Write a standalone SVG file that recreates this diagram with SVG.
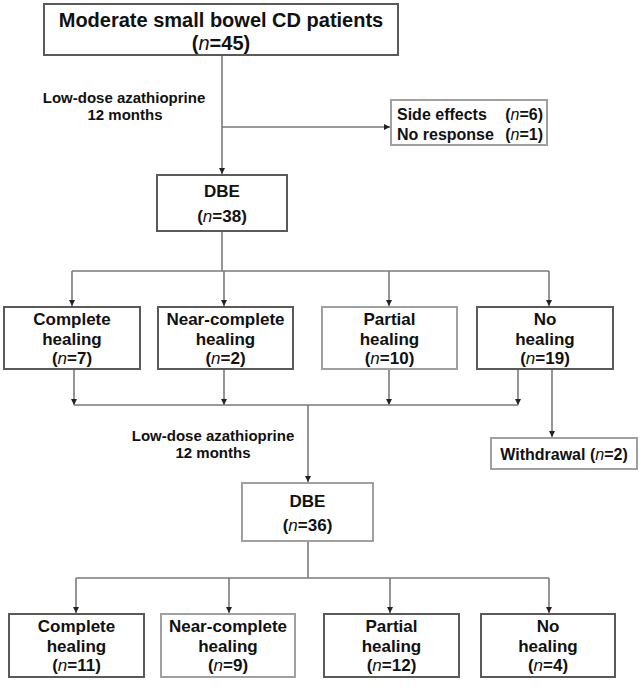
<svg xmlns="http://www.w3.org/2000/svg" width="644" height="688" viewBox="0 0 644 688">
<defs>
<style>
text{font-family:"Liberation Sans",Arial,sans-serif;font-weight:bold;fill:#111;text-anchor:middle}
.big{font-size:20px}
.box{font-size:17px}
.lbl{font-size:15px}
.side{font-size:16px}
.it{font-style:italic;font-weight:normal}
rect{fill:#fff;stroke:#5a5a5a;stroke-width:2}
rect.lt{stroke:#a0a0a0}
.conn line,.conn path{stroke:#7a7a7a;stroke-width:1.6;fill:none}
</style>
<marker id="ah" viewBox="0 0 6 6" refX="6" refY="3" markerWidth="6" markerHeight="6" markerUnits="userSpaceOnUse" orient="auto">
<path d="M0,0 L6,3 L0,6 Z" fill="#222"/>
</marker>
</defs>
<rect width="644" height="688" fill="#fff" style="stroke:none"/>

<g class="conn">
<line x1="222" y1="55" x2="222" y2="174" marker-end="url(#ah)"/>
<line x1="222" y1="127" x2="390" y2="127" marker-end="url(#ah)"/>
<line x1="222" y1="231" x2="222" y2="271"/>
<line x1="72" y1="271" x2="549" y2="271"/>
<line x1="72" y1="271" x2="72" y2="306" marker-end="url(#ah)"/>
<line x1="224" y1="271" x2="224" y2="306" marker-end="url(#ah)"/>
<line x1="389" y1="271" x2="389" y2="306" marker-end="url(#ah)"/>
<line x1="549" y1="271" x2="549" y2="306" marker-end="url(#ah)"/>
<line x1="74" y1="369" x2="74" y2="405" marker-end="url(#ah)"/>
<line x1="224" y1="369" x2="224" y2="405" marker-end="url(#ah)"/>
<line x1="389" y1="369" x2="389" y2="405" marker-end="url(#ah)"/>
<line x1="518" y1="369" x2="518" y2="405" marker-end="url(#ah)"/>
<line x1="74" y1="405" x2="518" y2="405"/>
<line x1="552" y1="369" x2="552" y2="437" marker-end="url(#ah)"/>
<line x1="308" y1="405" x2="308" y2="482" marker-end="url(#ah)"/>
<line x1="308" y1="541" x2="308" y2="578"/>
<line x1="76" y1="578" x2="549" y2="578"/>
<line x1="76" y1="578" x2="76" y2="613" marker-end="url(#ah)"/>
<line x1="229" y1="578" x2="229" y2="613" marker-end="url(#ah)"/>
<line x1="390" y1="578" x2="390" y2="613" marker-end="url(#ah)"/>
<line x1="549" y1="578" x2="549" y2="613" marker-end="url(#ah)"/>
</g>

<g id="start">
<rect x="44" y="4" width="354" height="51"/>
<text class="big" x="221" y="27">Moderate small bowel CD patients</text>
<text class="big" x="221" y="50">(<tspan class="it">n</tspan>=45)</text>
</g>

<g id="label1">
<text class="lbl" x="124" y="103">Low-dose azathioprine</text>
<text class="lbl" x="125" y="120">12 months</text>
</g>

<g id="excluded">
<rect class="lt" x="391" y="100" width="156" height="45"/>
<text class="side" x="397" y="120" style="text-anchor:start">Side effects</text>
<text class="side" x="543" y="120" style="text-anchor:end">(<tspan class="it">n</tspan>=6)</text>
<text class="side" x="397" y="140" style="text-anchor:start">No response</text>
<text class="side" x="543" y="140" style="text-anchor:end">(<tspan class="it">n</tspan>=1)</text>
</g>

<g id="dbe1">
<rect x="157" y="175" width="130" height="56"/>
<text class="box" x="222" y="197">DBE</text>
<text class="box" x="222" y="222">(<tspan class="it">n</tspan>=38)</text>
</g>

<g id="r1-complete">
<rect x="4" y="307" width="136" height="62"/>
<text class="box" x="72" y="325">Complete</text>
<text class="box" x="72" y="344.5">healing</text>
<text class="box" x="72" y="364">(<tspan class="it">n</tspan>=7)</text>
</g>
<g id="r1-near">
<rect x="158" y="307" width="135" height="62"/>
<text class="box" x="225.5" y="325">Near-complete</text>
<text class="box" x="225.5" y="344.5">healing</text>
<text class="box" x="225.5" y="364">(<tspan class="it">n</tspan>=2)</text>
</g>
<g id="r1-partial">
<rect class="lt" x="322" y="307" width="135" height="62"/>
<text class="box" x="389.5" y="325">Partial</text>
<text class="box" x="389.5" y="344.5">healing</text>
<text class="box" x="389.5" y="364">(<tspan class="it">n</tspan>=10)</text>
</g>
<g id="r1-no">
<rect x="477" y="307" width="136" height="62"/>
<text class="box" x="545" y="325">No</text>
<text class="box" x="545" y="344.5">healing</text>
<text class="box" x="545" y="364">(<tspan class="it">n</tspan>=19)</text>
</g>

<g id="withdrawal">
<rect class="lt" x="491" y="438" width="146" height="31"/>
<text class="side" x="564" y="460">Withdrawal (<tspan class="it">n</tspan>=2)</text>
</g>

<g id="label2">
<text class="lbl" x="213" y="441">Low-dose azathioprine</text>
<text class="lbl" x="213" y="458">12 months</text>
</g>

<g id="dbe2">
<rect class="lt" x="242" y="483" width="131" height="58"/>
<text class="box" x="307.5" y="507">DBE</text>
<text class="box" x="307.5" y="531">(<tspan class="it">n</tspan>=36)</text>
</g>

<g id="r2-complete">
<rect x="9" y="614" width="135" height="63"/>
<text class="box" x="76.5" y="632">Complete</text>
<text class="box" x="76.5" y="651.5">healing</text>
<text class="box" x="76.5" y="671">(<tspan class="it">n</tspan>=11)</text>
</g>
<g id="r2-near">
<rect class="lt" x="161" y="614" width="134" height="63"/>
<text class="box" x="228" y="632">Near-complete</text>
<text class="box" x="228" y="651.5">healing</text>
<text class="box" x="228" y="671">(<tspan class="it">n</tspan>=9)</text>
</g>
<g id="r2-partial">
<rect x="324" y="614" width="135" height="63"/>
<text class="box" x="391.5" y="632">Partial</text>
<text class="box" x="391.5" y="651.5">healing</text>
<text class="box" x="391.5" y="671">(<tspan class="it">n</tspan>=12)</text>
</g>
<g id="r2-no">
<rect x="481" y="614" width="134" height="63"/>
<text class="box" x="548" y="632">No</text>
<text class="box" x="548" y="651.5">healing</text>
<text class="box" x="548" y="671">(<tspan class="it">n</tspan>=4)</text>
</g>
</svg>
